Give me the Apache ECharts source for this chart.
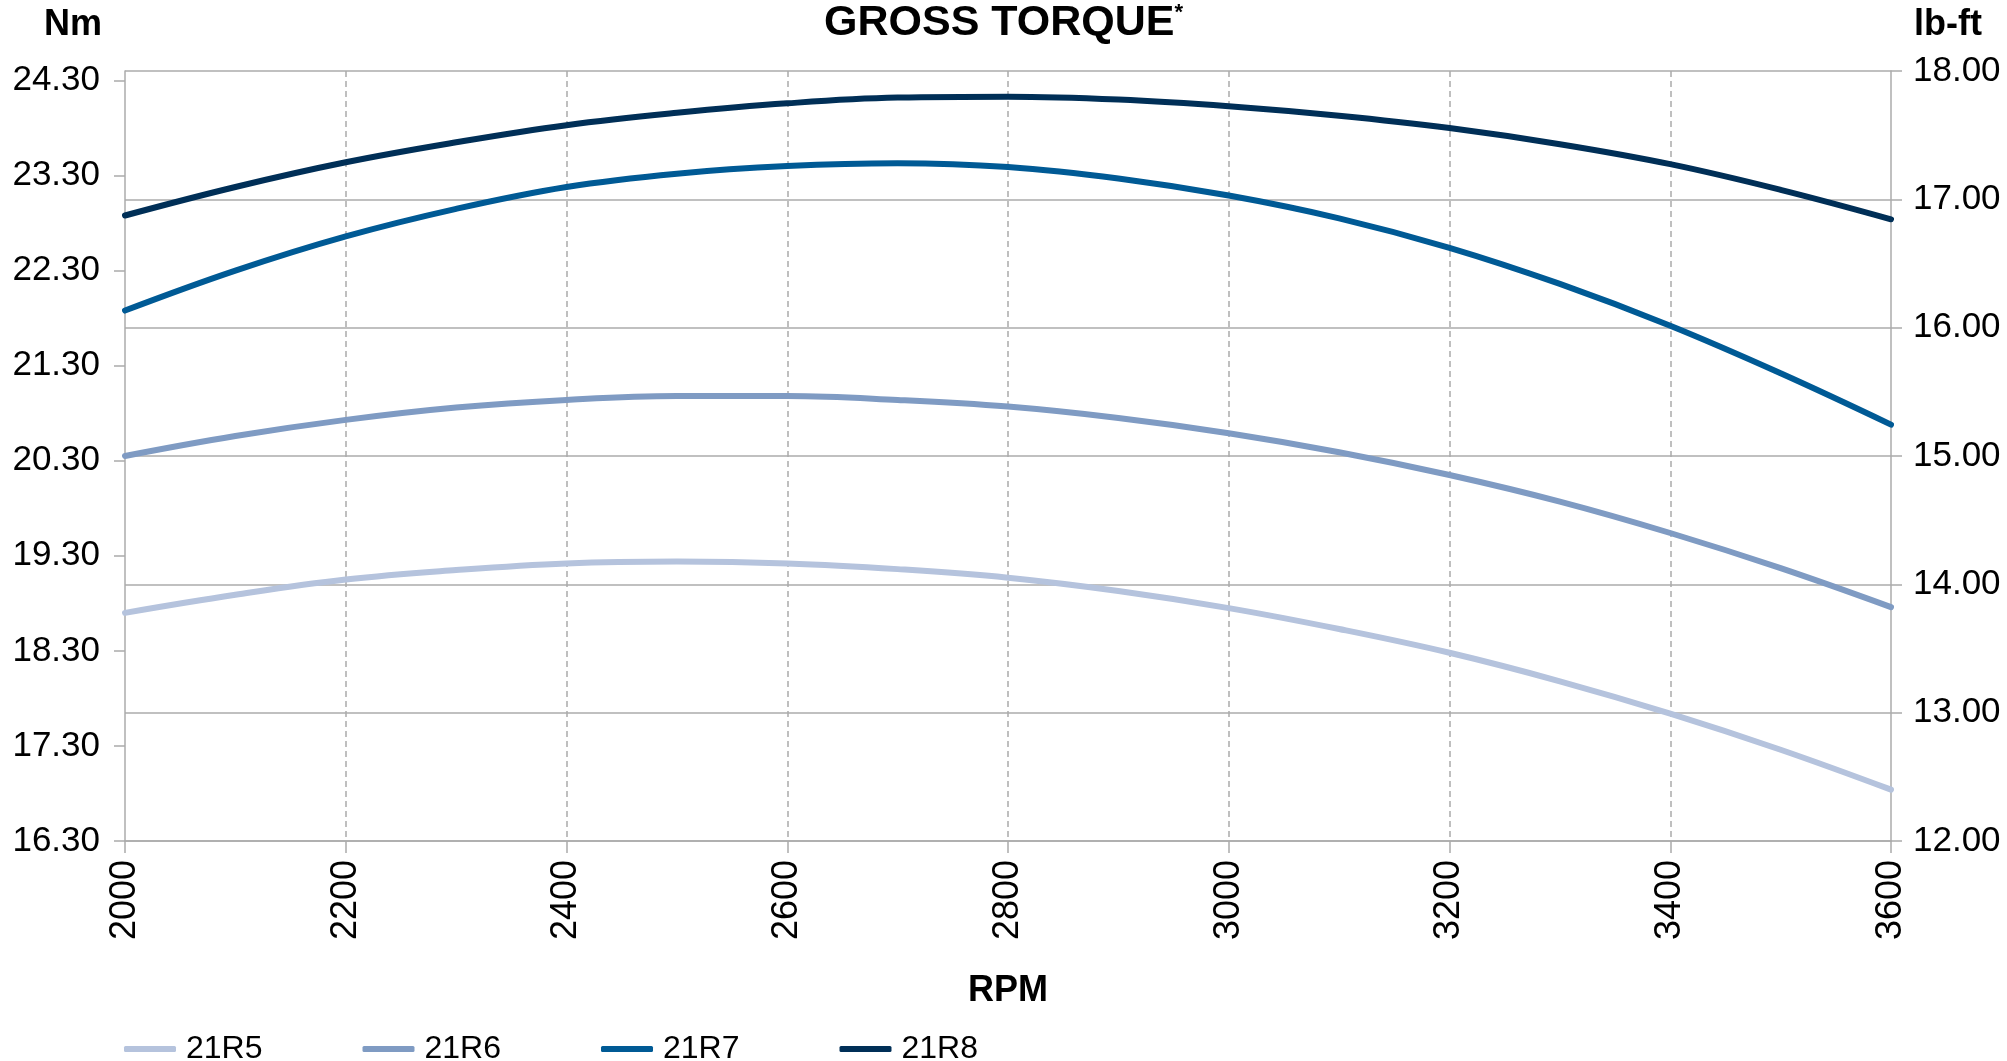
<!DOCTYPE html>
<html>
<head>
<meta charset="utf-8">
<title>Gross Torque</title>
<script src="https://cdn.jsdelivr.net/npm/echarts@6/dist/echarts.min.js"></script>
<style>
  html, body { margin: 0; padding: 0; background: #fff; }
  #chart { width: 2007px; height: 1061px; }
</style>
</head>
<body>
<div id="chart"></div>
<script>
// engine speed, RPM
const rpm = [2000, 2100, 2200, 2300, 2400, 2500, 2600, 2700, 2800, 2900, 3000, 3100, 3200, 3300, 3400, 3500, 3600];

// gross torque in Nm
const r5 = [18.70, 18.89, 19.05, 19.15, 19.22, 19.24, 19.22, 19.16, 19.07, 18.93, 18.75, 18.53, 18.28, 17.98, 17.64, 17.26, 16.84];
const r6 = [20.35, 20.56, 20.73, 20.86, 20.94, 20.98, 20.98, 20.94, 20.87, 20.75, 20.59, 20.39, 20.15, 19.87, 19.54, 19.17, 18.76];
const r7 = [21.88, 22.30, 22.66, 22.95, 23.18, 23.32, 23.40, 23.43, 23.39, 23.27, 23.09, 22.85, 22.54, 22.16, 21.72, 21.22, 20.68];
const r8 = [22.88, 23.18, 23.44, 23.65, 23.83, 23.96, 24.06, 24.12, 24.13, 24.10, 24.03, 23.93, 23.80, 23.63, 23.42, 23.15, 22.84];

const seriesNames = ['21R5', '21R6', '21R7', '21R8'];
const seriesValues = [r5, r6, r7, r8];
const colors = ['#b5c3dd', '#7f9bc3', '#005a95', '#002f57'];

// tick labels
const nmTicks = [16.3, 17.3, 18.3, 19.3, 20.3, 21.3, 22.3, 23.3, 24.3];

const FONT = "'Liberation Sans', Arial, sans-serif";
const GRAY = '#ababab';

const chart = echarts.init(document.getElementById('chart'));

const series = seriesNames.map((name, i) => ({
  name: name,
  type: 'line',
  yAxisIndex: 0,
  smooth: 0.4,
  showSymbol: false,
  symbol: 'none',
  lineStyle: { width: 6, color: colors[i], cap: 'round' },
  itemStyle: { color: colors[i] },
  data: rpm.map((x, k) => [x, seriesValues[i][k]])
}));

const option = {
  backgroundColor: '#fff',
  animation: false,
  title: [
    {
      text: '{a|GROSS TORQUE}{b|*}',
      left: 'center',
      top: 2,
      padding: 0,
      textStyle: {
        rich: {
          a: { fontFamily: FONT, fontWeight: 'bold', fontSize: 43, color: '#000' },
          b: { fontFamily: FONT, fontWeight: 'bold', fontSize: 22, color: '#000', verticalAlign: 'top', padding: [0, 0, 14, 0] }
        }
      }
    },
    {
      text: 'Nm',
      right: 2007 - 102,
      top: 7,
      padding: 0,
      textStyle: { fontFamily: FONT, fontWeight: 'bold', fontSize: 36, color: '#000' }
    },
    {
      text: 'lb-ft',
      left: 1914,
      top: 7,
      padding: 0,
      textStyle: { fontFamily: FONT, fontWeight: 'bold', fontSize: 36, color: '#000' }
    }
  ],
  legend: {
    data: seriesNames,
    left: 119,
    top: 1028,
    icon: 'roundRect',
    itemWidth: 52,
    itemHeight: 6,
    itemGap: 100,
    textStyle: { fontFamily: FONT, fontSize: 32, color: '#000', padding: [0, 0, 0, 5] }
  },
  grid: { left: 125, right: 116, top: 71, bottom: 220, containLabel: false },
  xAxis: {
    type: 'value',
    min: 2000,
    max: 3600,
    interval: 200,
    name: 'RPM',
    nameLocation: 'middle',
    nameGap: 132,
    nameTextStyle: { fontFamily: FONT, fontWeight: 'bold', fontSize: 36, color: '#000' },
    axisLine: { show: true, lineStyle: { color: GRAY, width: 1.5 } },
    axisTick: { show: true, inside: false, length: 12, lineStyle: { color: GRAY, width: 1.5 } },
    axisLabel: { rotate: 90, margin: 19, fontFamily: FONT, fontSize: 36, color: '#000', formatter: v => String(v) },
    splitLine: {
      show: true,
      showMinLine: false,
      showMaxLine: false,
      lineStyle: { color: GRAY, width: 1.5, type: [6, 4] }
    }
  },
  yAxis: [
    {
      type: 'value',
      position: 'left',
      min: 16.3,
      max: 24.4,
      axisLine: { show: true, lineStyle: { color: GRAY, width: 1.5 } },
      axisTick: { show: true, length: 11, customValues: nmTicks, lineStyle: { color: GRAY, width: 1.5 } },
      axisLabel: {
        customValues: nmTicks,
        margin: 25,
        fontFamily: FONT,
        fontSize: 35,
        color: '#000',
        formatter: v => v.toFixed(2)
      },
      splitLine: { show: false }
    },
    {
      type: 'value',
      position: 'right',
      min: 12,
      max: 18,
      interval: 1,
      axisLine: { show: true, lineStyle: { color: GRAY, width: 1.5 } },
      axisTick: { show: true, length: 11, lineStyle: { color: GRAY, width: 1.5 } },
      axisLabel: {
        margin: 22,
        fontFamily: FONT,
        fontSize: 35,
        color: '#000',
        formatter: v => v.toFixed(2)
      },
      splitLine: { show: true, lineStyle: { color: GRAY, width: 1.5 } }
    }
  ],
  series: series
};

chart.setOption(option);
window.addEventListener('resize', () => chart.resize());
</script>
</body>
</html>
